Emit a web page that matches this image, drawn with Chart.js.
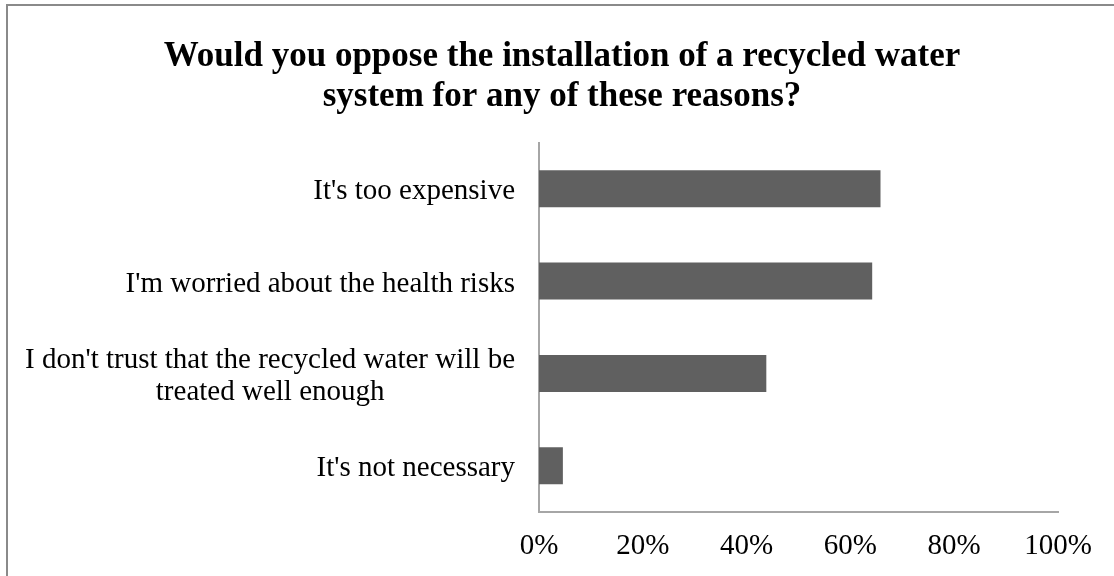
<!DOCTYPE html>
<html>
<head>
<meta charset="utf-8">
<script src="https://cdn.jsdelivr.net/npm/chart.js@4/dist/chart.umd.min.js"></script>
<style>
  html, body { margin: 0; padding: 0; background: #fff; overflow: hidden; }
  #frame {
    position: absolute; left: 6px; top: 4px;
    width: 1200px; height: 700px;
    border: 2px solid #8a8a8a;
  }
  #chart { position: absolute; left: 0; top: 0; }
</style>
</head>
<body>
<div id="frame"></div>
<canvas id="chart" width="1114" height="576"></canvas>
<script>
var titleLines = [
	'Would you oppose the installation of a recycled water',
	'system for any of these reasons?'
];
var reasons = [
	"It's too expensive",
	"I'm worried about the health risks",
	["I don't trust that the recycled water will be", "treated well enough"],
	"It's not necessary"
];
var shares = [65.8, 64.2, 43.8, 4.6];
var tickSteps = [0, 20, 40, 60, 80, 100];

var serif = '"Liberation Serif", "Times New Roman", serif';
var labelFont = '29px ' + serif;

// right-aligned tick labels, but wrapped lines are centred under each other:
// pad the shorter lines with trailing spaces
function centreWrapped(scale) {
	var c = scale.ctx;
	c.save();
	c.font = labelFont;
	var sp = c.measureText(' ').width;
	scale.ticks.forEach(function(t) {
		if (!Array.isArray(t.label)) return;
		var widths = t.label.map(function(s) { return c.measureText(s).width; });
		var widest = Math.max.apply(null, widths);
		t.label = t.label.map(function(s, i) {
			var n = Math.round((widest - widths[i]) / 2 / sp);
			return s + ' '.repeat(n);
		});
	});
	c.restore();
}

// the left padding only shifts the title; let the category labels use the full width
var widenLabelArea = {
	id: 'widenLabelArea',
	afterLayout: function(chart) {
		var y = chart.scales.y;
		y.width += y.left;
		y.left = 0;
	}
};

var ctx = document.getElementById('chart').getContext('2d');
new Chart(ctx, {
	type: 'bar',
	data: {
		labels: reasons,
		datasets: [{
			data: shares,
			backgroundColor: '#606060',
			borderWidth: 0,
			barPercentage: 0.4,
			categoryPercentage: 1
		}]
	},
	plugins: [widenLabelArea],
	options: {
		indexAxis: 'y',
		responsive: false,
		animation: false,
		layout: { padding: { left: 66, right: 56, top: 0, bottom: 0 } },
		plugins: {
			legend: { display: false },
			tooltip: { enabled: false },
			title: {
				display: true,
				text: titleLines,
				color: '#000',
				font: { family: serif, size: 35, weight: 'bold', lineHeight: 1.15 },
				padding: { top: 37, bottom: 25 }
			}
		},
		scales: {
			x: {
				min: 0,
				max: 100,
				grid: { display: false, drawTicks: false },
				border: { display: true, color: '#a6a6a6', width: 2 },
				afterFit: function(scale) { scale.height = 64; },
				afterBuildTicks: function(scale) {
					scale.ticks = tickSteps.map(function(v) { return { value: v }; });
				},
				ticks: {
					color: '#000',
					padding: 17,
					maxRotation: 0,
					font: { family: serif, size: 29, lineHeight: 1.2 },
					callback: function(v) { return v + '%'; }
				}
			},
			y: {
				grid: { display: false, drawTicks: false },
				border: { display: true, color: '#a6a6a6', width: 2 },
				afterFit: function(scale) { scale.width = 539 - 66; },
				afterTickToLabelConversion: centreWrapped,
				ticks: {
					color: '#000',
					padding: 24,
					labelOffset: 3,
					font: { family: serif, size: 29, lineHeight: 1.1 }
				}
			}
		}
	}
});
</script>
</body>
</html>
